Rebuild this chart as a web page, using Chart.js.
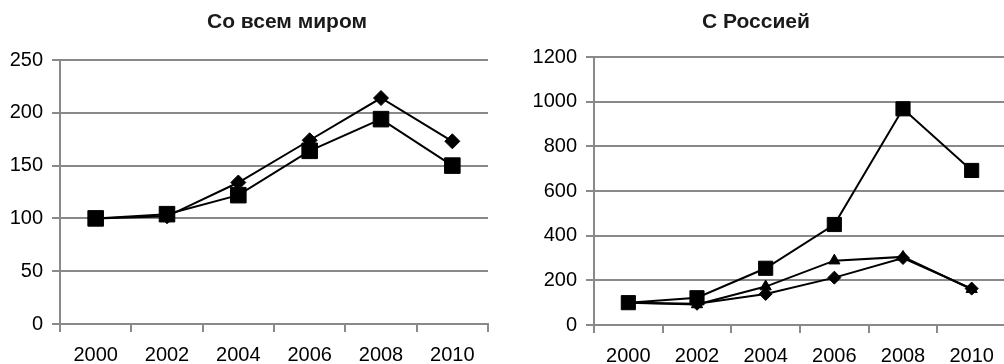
<!DOCTYPE html>
<html><head><meta charset="utf-8">
<script src="https://cdn.jsdelivr.net/npm/chart.js@4/dist/chart.umd.min.js"></script>
<style>
html,body{margin:0;padding:0;background:#fff;overflow:hidden;width:1004px;height:364px;}
#wrap{position:relative;width:1004px;height:364px;overflow:hidden;}
#c1{position:absolute;left:0;top:0;width:500px;height:364px;}
#c2{position:absolute;left:505px;top:0;width:512px;height:364px;}
</style></head><body>
<div id="wrap"><canvas id="c1" width="500" height="364"></canvas><canvas id="c2" width="512" height="364"></canvas></div>
<script>
// ---- data ----
const categories = ['2000', '2002', '2004', '2006', '2008', '2010'];
const worldTitle = 'Со всем миром';
const russiaTitle = 'С Россией';
const worldDiamond = [100, 102, 134, 174, 214, 173];
const worldSquare = [100, 104, 122, 164, 194, 150];
const russiaSquare = [100, 122, 254, 450, 968, 692];
const russiaTriangle = [100, 92, 172, 288, 305, 160];
const russiaDiamond = [100, 95, 139, 212, 300, 163];
const worldTicks = [0, 50, 100, 150, 200, 250];
const russiaTicks = [0, 200, 400, 600, 800, 1000, 1200];

const GRID = '#898989';
const FONT = '"Liberation Sans", Arial, sans-serif';

const fixedTitle = {
  id: 'fixedTitle',
  afterDraw(chart, args, opts) {
    const ctx = chart.ctx;
    ctx.save();
    ctx.font = 'bold 21px ' + FONT;
    ctx.fillStyle = '#1a1a1a';
    ctx.textAlign = 'center';
    ctx.textBaseline = 'alphabetic';
    ctx.fillText(opts.text, opts.x, opts.y);
    ctx.restore();
  }
};

function ds(data, style, radius, order) {
  return {
    data: data,
    borderColor: '#000',
    backgroundColor: '#000',
    borderWidth: 2,
    pointStyle: style,
    pointRadius: radius,
    pointBorderWidth: 1,
    pointBackgroundColor: '#000',
    pointBorderColor: '#000',
    tension: 0,
    order: order
  };
}

function makeChart(id, datasets, tickVals, opts) {
  const maxV = tickVals[tickVals.length - 1];
  const step = tickVals[1] - tickVals[0];
  return new Chart(document.getElementById(id), {
    type: 'line',
    data: { labels: categories, datasets: datasets },
    plugins: [fixedTitle],
    options: {
      responsive: false,
      animation: false,
      events: [],
      layout: { padding: { top: opts.top, right: opts.right, left: 0, bottom: 0 } },
      plugins: {
        legend: { display: false },
        tooltip: { enabled: false },
        title: { display: false },
        fixedTitle: { text: opts.title, x: opts.titleX, y: 28 }
      },
      scales: {
        x: {
          type: 'category',
          offset: true,
          grid: {
            offset: true,
            drawOnChartArea: true,
            color: (c) => (c.index === categories.length ? GRID : 'rgba(0,0,0,0)'),
            tickColor: GRID,
            lineWidth: 2,
            tickLength: 8
          },
          border: { display: true, color: GRID, width: 2 },
          ticks: { color: '#000', font: { family: FONT, size: 20 }, padding: 11, maxRotation: 0, autoSkip: false },
          afterFit: (s) => { s.height = opts.xHeight; s.paddingLeft = 0; s.paddingRight = 0; }
        },
        y: {
          min: 0,
          max: maxV,
          ticks: {
            stepSize: step, color: '#000', font: { family: FONT, size: 20 }, padding: 9,
            callback: (v) => String(v)
          },
          grid: { color: GRID, lineWidth: 2, tickLength: 8, tickColor: GRID },
          border: { display: true, color: GRID, width: 2 },
          afterFit: (s) => { s.width = opts.yWidth; }
        }
      }
    }
  });
}

makeChart('c1', [
  ds(worldSquare, 'rect', 11, 0),
  ds(worldDiamond, 'rectRot', 7.5, 1)
], worldTicks, { top: 60, right: 12, xHeight: 40, yWidth: 60, title: worldTitle, titleX: 287 });

makeChart('c2', [
  ds(russiaSquare, 'rect', 10, 0),
  ds(russiaDiamond, 'rectRot', 6.5, 1),
  ds(russiaTriangle, 'triangle', 6.5, 2)
], russiaTicks, { top: 57, right: 0, xHeight: 39, yWidth: 89, title: russiaTitle, titleX: 251 });
</script>
</body></html>
